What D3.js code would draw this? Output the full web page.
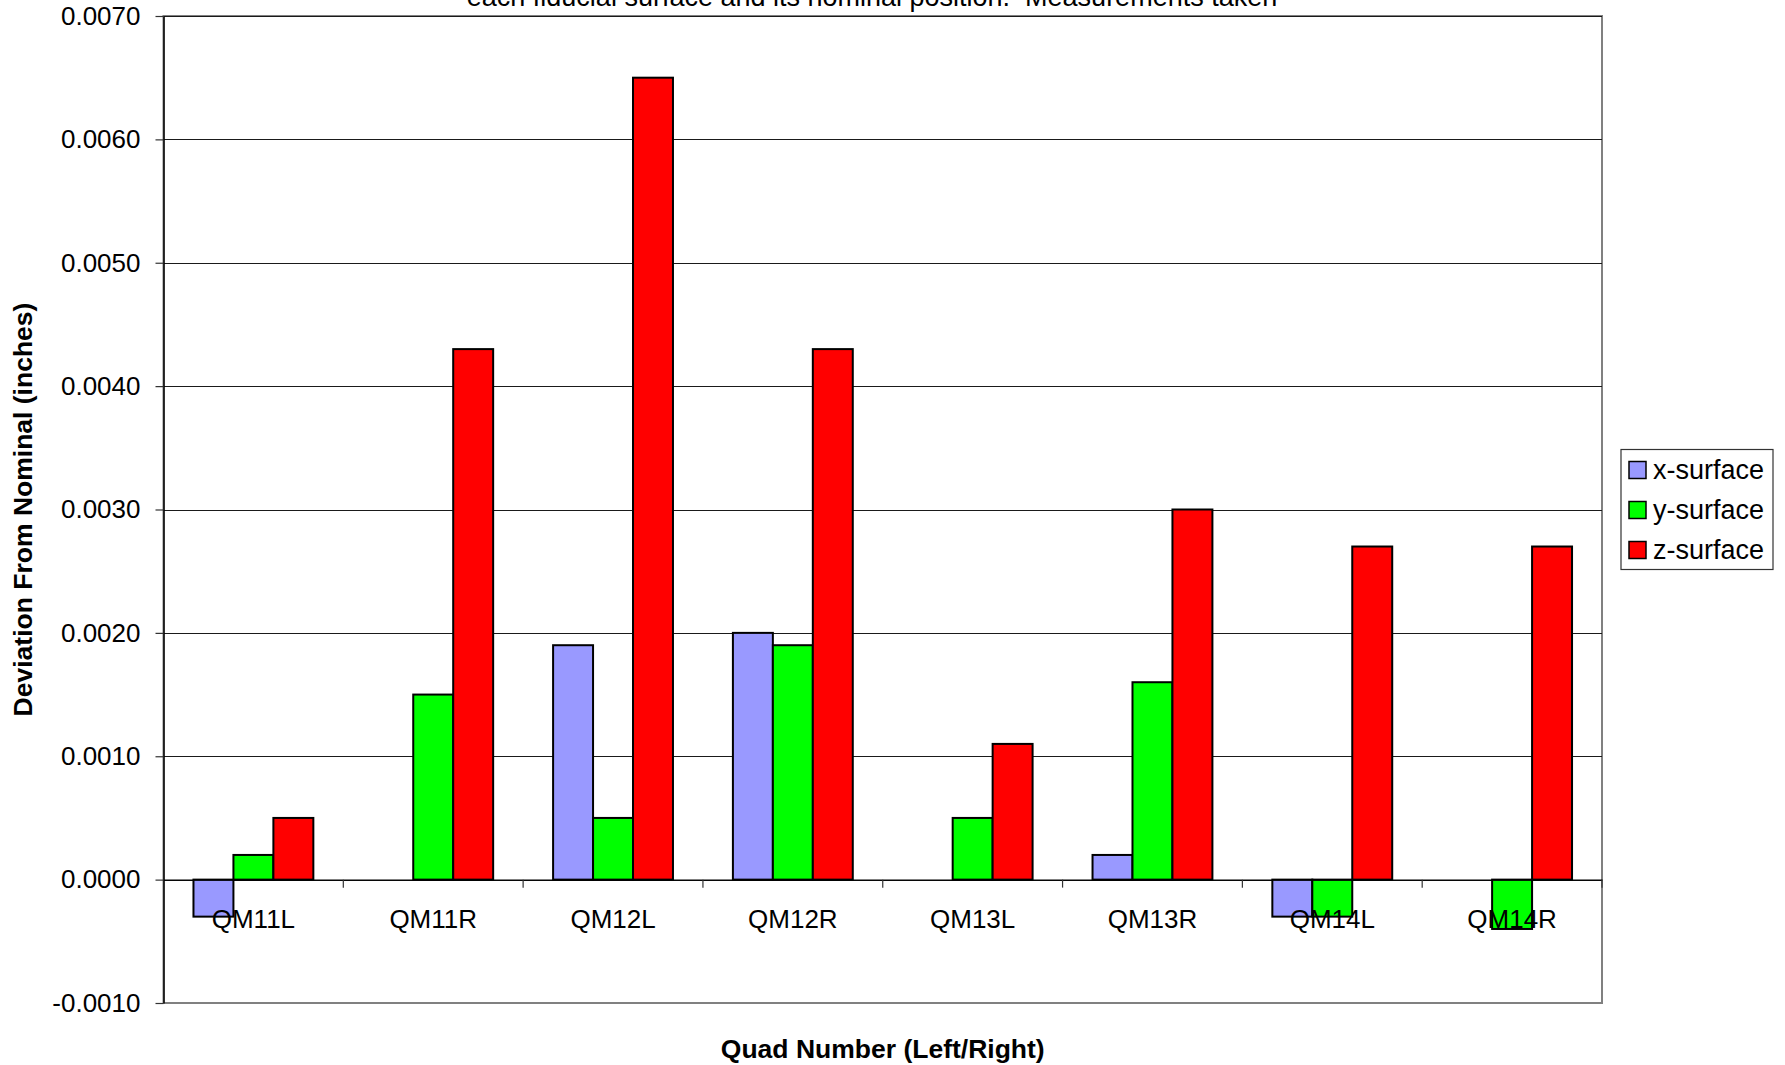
<!DOCTYPE html>
<html lang="en">
	<head>
		<meta charset="utf-8">
		<title>D3: Fiducial surface deviation</title>
		<script type="text/javascript" src="https://cdn.jsdelivr.net/npm/d3@7"></script>
		<style type="text/css">
			body { margin: 0; background: #fff; }
			text { font-family: "Liberation Sans", Arial, sans-serif; fill: #000; white-space: pre; }
		</style>
	</head>
	<body>
		<script type="text/javascript">

			//Data
			var quads = ["QM11L", "QM11R", "QM12L", "QM12R", "QM13L", "QM13R", "QM14L", "QM14R"];
			var seriesNames = ["x-surface", "y-surface", "z-surface"];
			var seriesColors = ["#9999FF", "#00FF00", "#FF0000"];
			var xSurface = [-0.0003, 0, 0.0019, 0.0020, 0, 0.0002, -0.0003, 0];
			var ySurface = [0.0002, 0.0015, 0.0005, 0.0019, 0.0005, 0.0016, -0.0003, -0.0004];
			var zSurface = [0.0005, 0.0043, 0.0065, 0.0043, 0.0011, 0.0030, 0.0027, 0.0027];
			var yTicks = [-0.0010, 0.0000, 0.0010, 0.0020, 0.0030, 0.0040, 0.0050, 0.0060, 0.0070];
			var titleText = "each fiducial surface and its nominal position.  Measurements taken";
			var xTitle = "Quad Number (Left/Right)";
			var yTitle = "Deviation From Nominal (inches)";

			//Width and height
			var w = 1785;
			var h = 1065;
			var plot = { left: 163.5, right: 1602, top: 16, bottom: 1003 };

			var seriesValues = [xSurface, ySurface, zSurface];

			//Flatten into one record per bar
			var dataset = [];
			quads.forEach(function(q, i) {
				seriesNames.forEach(function(s, j) {
					dataset.push({ quad: q, series: s, value: seriesValues[j][i], color: seriesColors[j] });
				});
			});

			var xScale = d3.scaleBand()
							.domain(quads)
							.range([plot.left, plot.right]);

			var xInner = d3.scaleBand()
							.domain(seriesNames)
							.range([0, xScale.bandwidth()])
							.paddingOuter(0.75);

			var yScale = d3.scaleLinear()
							.domain([yTicks[0], yTicks[yTicks.length - 1]])
							.range([plot.bottom, plot.top]);

			//Plain hyphen for negatives, as in the original
			var fmt = function(d) { return d3.format(".4f")(d).replace("\u2212", "-"); };

			//Create SVG element
			var svg = d3.select("body")
						.append("svg")
						.attr("width", w)
						.attr("height", h);

			//Title (only its last line shows at the top edge)
			svg.append("text")
				.attr("x", 872)
				.attr("y", 6)
				.attr("text-anchor", "middle")
				.attr("font-size", "27px")
				.attr("xml:space", "preserve")
				.text(titleText);

			//Plot area border
			svg.append("rect")
				.attr("x", plot.left)
				.attr("y", plot.top)
				.attr("width", plot.right - plot.left)
				.attr("height", plot.bottom - plot.top)
				.attr("fill", "none")
				.attr("stroke", "#808080")
				.attr("stroke-width", 2);

			//Gridlines
			svg.append("g")
				.selectAll("line")
				.data(yTicks.slice(1))
				.enter()
				.append("line")
				.attr("x1", plot.left)
				.attr("x2", plot.right)
				.attr("y1", function(d) { return Math.round(yScale(d)) + 0.5; })
				.attr("y2", function(d) { return Math.round(yScale(d)) + 0.5; })
				.attr("stroke", "#1a1a1a")
				.attr("stroke-width", 1.2);

			//Y axis
			var yAxis = d3.axisLeft(yScale)
							.tickValues(yTicks)
							.tickFormat(fmt)
							.tickSizeInner(8)
							.tickSizeOuter(0)
							.tickPadding(15);

			var yAxisG = svg.append("g")
				.attr("transform", "translate(" + plot.left + ",0)")
				.call(yAxis);
			yAxisG.select(".domain").attr("stroke", "#000").attr("stroke-width", 1.5);
			yAxisG.selectAll(".tick line").attr("stroke", "#333").attr("stroke-width", 1.2);
			yAxisG.selectAll("text")
				.attr("font-size", "26px")
				.attr("font-family", "'Liberation Sans', Arial, sans-serif")
				.attr("fill", "#000");

			//Bars
			svg.append("g")
				.selectAll("rect")
				.data(dataset.filter(function(d) { return d.value !== 0; }))
				.enter()
				.append("rect")
				.attr("x", function(d) { return xScale(d.quad) + xInner(d.series); })
				.attr("y", function(d) { return yScale(Math.max(0, d.value)); })
				.attr("width", xInner.bandwidth())
				.attr("height", function(d) { return Math.abs(yScale(d.value) - yScale(0)); })
				.attr("fill", function(d) { return d.color; })
				.attr("stroke", "#000")
				.attr("stroke-width", 2);

			//X axis at zero, labels under it
			var xAxis = d3.axisBottom(xScale)
							.tickSize(0)
							.tickPadding(30);

			var xAxisG = svg.append("g")
				.attr("transform", "translate(0," + yScale(0) + ")")
				.call(xAxis);
			xAxisG.select(".domain").attr("stroke", "#000").attr("stroke-width", 1.2);
			xAxisG.selectAll("text")
				.attr("font-size", "26px")
				.attr("font-family", "'Liberation Sans', Arial, sans-serif")
				.attr("fill", "#000");

			//Category boundary ticks
			xAxisG.selectAll(".boundary")
				.data(quads.slice(1).concat(["end"]))
				.enter()
				.append("line")
				.attr("class", "boundary")
				.attr("x1", function(d) { return d === "end" ? plot.right : xScale(d); })
				.attr("x2", function(d) { return d === "end" ? plot.right : xScale(d); })
				.attr("y1", 0)
				.attr("y2", 8)
				.attr("stroke", "#333")
				.attr("stroke-width", 1.2);

			//Axis titles
			svg.append("text")
				.attr("x", (plot.left + plot.right) / 2)
				.attr("y", 1058)
				.attr("text-anchor", "middle")
				.attr("font-size", "26.5px")
				.attr("font-weight", "bold")
				.text(xTitle);

			svg.append("text")
				.attr("transform", "translate(23," + ((plot.top + plot.bottom) / 2) + ") rotate(-90)")
				.attr("text-anchor", "middle")
				.attr("dy", "0.35em")
				.attr("font-size", "26.5px")
				.attr("font-weight", "bold")
				.text(yTitle);

			//Legend
			var legend = svg.append("g");

			legend.append("rect")
				.attr("x", 1621)
				.attr("y", 449.5)
				.attr("width", 152)
				.attr("height", 120)
				.attr("fill", "#fff")
				.attr("stroke", "#333")
				.attr("stroke-width", 1.2);

			var items = legend.selectAll(".item")
				.data(seriesNames)
				.enter()
				.append("g")
				.attr("class", "item")
				.attr("transform", function(d, i) { return "translate(1629," + (470 + i * 40) + ")"; });

			items.append("rect")
				.attr("x", 0)
				.attr("y", -8.5)
				.attr("width", 17)
				.attr("height", 17)
				.attr("fill", function(d, i) { return seriesColors[i]; })
				.attr("stroke", "#000")
				.attr("stroke-width", 1.5);

			items.append("text")
				.attr("x", 24)
				.attr("dy", "0.35em")
				.attr("font-size", "27px")
				.text(function(d) { return d; });

		</script>
	</body>
</html>
